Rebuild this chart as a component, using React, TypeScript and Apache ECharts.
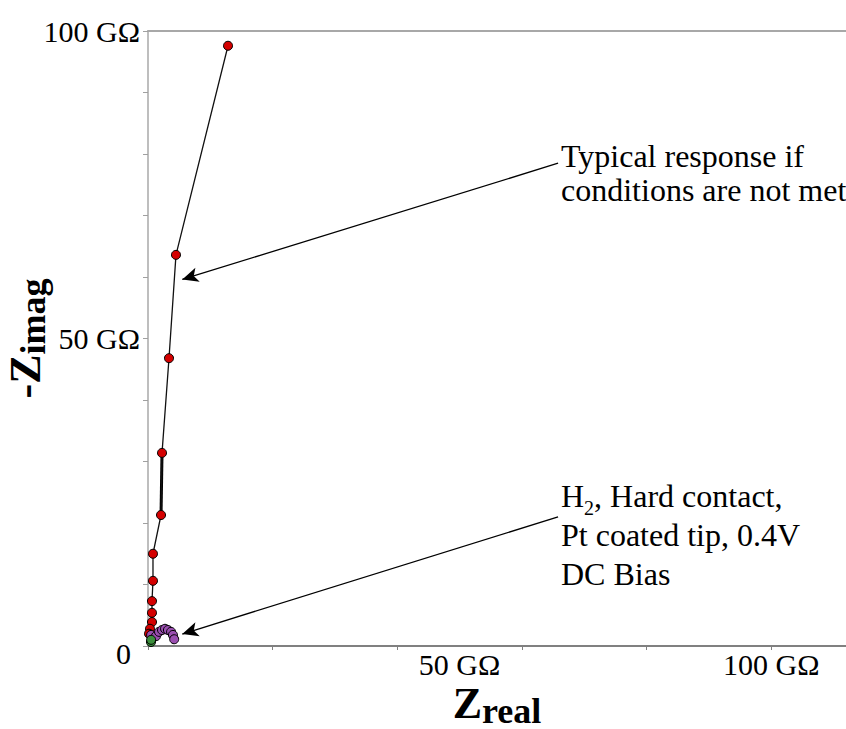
import React, { useEffect, useRef } from "react";
import * as echarts from "echarts";

const FONT = "Liberation Serif";

// Red series: "typical response if conditions are not met" (GΩ)
const redX = [12.84, 4.49, 3.37, 2.25, 2.09, 0.8, 0.8, 0.64, 0.64, 0.64, 0.32, 0.16];
const redY = [97.6, 63.6, 46.8, 31.4, 21.3, 15.0, 10.6, 7.3, 5.4, 3.9, 2.8, 2.0];
// Purple series: H2, hard contact, Pt coated tip, 0.4V DC bias (GΩ)
const purpleX = [0.5, 1.28, 1.77, 2.25, 2.73, 3.2, 3.7, 4.0, 4.2];
const purpleY = [1.8, 1.6, 2.3, 2.6, 2.8, 2.6, 2.3, 1.8, 1.1];
// Green series
const greenX = [0.48, 0.5];
const greenY = [0.65, 1.0];
// Segment drawn heavier in the original
const thickIdx = [3, 4];

const xTickValues = [0, 20, 40, 60, 80, 100];
const xLabelValues = [50, 100];
const xLabelTexts = ["50 GΩ", "100 GΩ"];
const yLabelValues = [0, 50, 100];
const yLabelTexts = ["0", "50 GΩ", "100 GΩ"];

const annot1Lines = ["Typical response if", "conditions are not met"];
const annot2Lines = ["{n|H}{s|2}{n|, Hard contact,}", "Pt coated tip, 0.4V", "DC Bias"];
// arrow: [start, tip] in data coordinates
const arrow1 = [[65.8, 78.5], [5.5, 59.6]];
const arrow2 = [[65.8, 21.0], [5.5, 1.95]];

const zip = (xs: number[], ys: number[]) => xs.map((x, i) => [x, ys[i]]);

export default function App() {
  const ref = useRef<HTMLDivElement>(null);
  useEffect(() => {
    if (!ref.current) return;
    const chart = echarts.init(ref.current, undefined, { renderer: "svg" });
    const arrowLine = (a: number[][]) => ({
      silent: true,
      symbol: ["none", "arrow"],
      symbolSize: [11, 16],
      label: { show: false },
      emphasis: { disabled: true },
      lineStyle: { color: "#000", width: 1.3, type: "solid" },
      data: [[{ coord: a[0] }, { coord: a[1] }]],
    });
    const nameRich = (big: string) => ({
      [big]: { fontSize: 44, fontWeight: "bold", fontFamily: FONT, color: "#000", lineHeight: 44, verticalAlign: "top" },
      s: { fontSize: 36, fontWeight: "bold", fontFamily: FONT, color: "#000", lineHeight: 34, padding: [12, 0, 0, 0], verticalAlign: "top" },
    });
    const option: any = {
      animation: false,
      backgroundColor: "#ffffff",
      textStyle: { fontFamily: FONT },
      grid: { left: 148, right: 0, top: 31, bottom: 83, containLabel: false, outerBoundsMode: "none" },
      xAxis: [
        {
          type: "value",
          min: 0,
          max: 112,
          position: "bottom",
          axisLine: { show: true, onZero: false, lineStyle: { color: "#808080", width: 2 } },
          axisTick: { show: true, customValues: xTickValues, length: 4, lineStyle: { color: "#808080", width: 1 } },
          axisLabel: {
            show: true,
            customValues: xLabelValues,
            formatter: (v: number) => {
              const i = xLabelValues.indexOf(v);
              return i >= 0 ? xLabelTexts[i] : "";
            },
            fontSize: 30,
            lineHeight: 28,
            fontFamily: FONT,
            color: "#000",
            margin: 4,
          },
          splitLine: { show: false },
          name: "{z|Z}{s|real}",
          nameLocation: "middle",
          nameGap: 35,
          nameMoveOverlap: false,
          nameTextStyle: { rich: nameRich("z") },
        },
        {
          type: "value",
          min: 0,
          max: 112,
          position: "top",
          axisLine: { show: true, onZero: false, lineStyle: { color: "#a8a8a8", width: 2 } },
          axisTick: { show: false },
          axisLabel: { show: false },
          splitLine: { show: false },
        },
      ],
      yAxis: {
        type: "value",
        min: 0,
        max: 100,
        interval: 10,
        axisLine: { show: true, onZero: false, lineStyle: { color: "#a8a8a8", width: 1.5 } },
        axisTick: { show: true, length: 5, lineStyle: { color: "#a0a0a0", width: 1 } },
        axisLabel: {
          formatter: (v: number) => {
            const i = yLabelValues.indexOf(v);
            if (i < 0) return "";
            return v === 0 ? "{z|" + yLabelTexts[i] + "}" : yLabelTexts[i];
          },
          fontSize: 30,
          fontFamily: FONT,
          color: "#000",
          margin: 8,
          rich: {
            z: { fontSize: 30, fontFamily: FONT, color: "#000", padding: [14, 9, 0, 0] },
          },
        },
        splitLine: { show: false },
        name: "{m|-Z}{s|imag}",
        nameLocation: "middle",
        nameRotate: 90,
        nameGap: 101,
        nameMoveOverlap: false,
        nameTextStyle: { rich: nameRich("m") },
      },
      series: [
        {
          type: "line",
          data: thickIdx.map((i) => [redX[i], redY[i]]),
          showSymbol: false,
          symbol: "none",
          lineStyle: { color: "#000", width: 3 },
          silent: true,
          z: 2,
        },
        {
          type: "line",
          data: zip(redX, redY),
          symbol: "circle",
          symbolSize: 9,
          itemStyle: { color: "#d40000", borderColor: "#000", borderWidth: 1 },
          lineStyle: { color: "#111", width: 1.3 },
          silent: true,
          z: 3,
          markLine: arrowLine(arrow1),
        },
        {
          type: "line",
          data: zip(purpleX, purpleY),
          symbol: "circle",
          symbolSize: 9,
          itemStyle: { color: "#9a4fb0", borderColor: "#000", borderWidth: 1 },
          lineStyle: { color: "#111", width: 1 },
          silent: true,
          z: 4,
          markLine: arrowLine(arrow2),
        },
        {
          type: "line",
          data: zip(greenX, greenY),
          symbol: "circle",
          symbolSize: 9,
          itemStyle: { color: "#3c8f3c", borderColor: "#000", borderWidth: 1 },
          lineStyle: { color: "#111", width: 1 },
          silent: true,
          z: 5,
        },
      ],
      graphic: [
        ...annot1Lines.map((t, i) => ({
          type: "text",
          left: 561,
          top: 140 + i * 34,
          silent: true,
          style: { text: t, fontSize: 32, fontFamily: FONT, fill: "#000" },
        })),
        ...annot2Lines.map((t, i) => ({
          type: "text",
          left: 561,
          top: 480 + i * 39,
          silent: true,
          style: {
            text: t,
            fontSize: 32,
            fontFamily: FONT,
            fill: "#000",
            rich: {
              n: { fontSize: 32, fontFamily: FONT, fill: "#000", lineHeight: 36, verticalAlign: "top" },
              s: { fontSize: 20, fontFamily: FONT, fill: "#000", lineHeight: 20, padding: [18, 0, 0, 0], verticalAlign: "top" },
            },
          },
        })),
      ],
    };
    chart.setOption(option);
    return () => chart.dispose();
  }, []);
  return (
    <div
      ref={ref}
      style={{ position: "absolute", left: 0, top: 0, width: 846, height: 729, background: "#fff" }}
    />
  );
}
